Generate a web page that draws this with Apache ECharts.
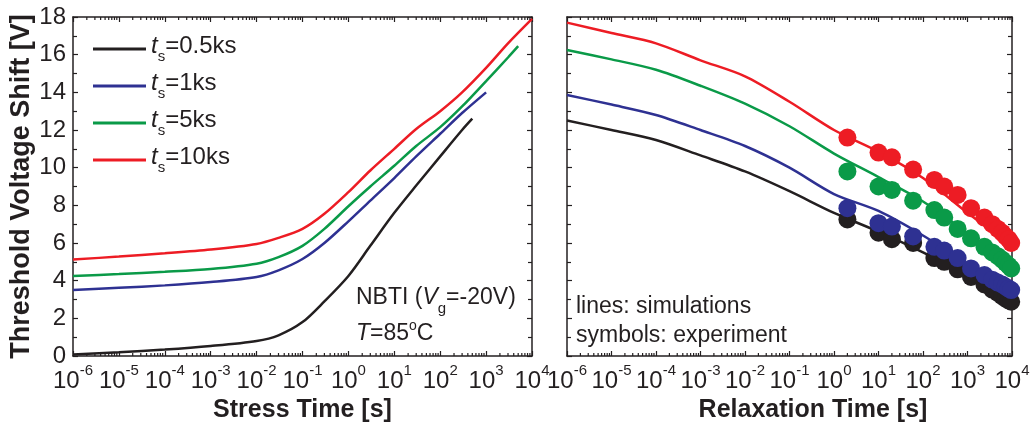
<!DOCTYPE html>
<html>
<head>
<meta charset="utf-8">
<script src="https://cdn.jsdelivr.net/npm/echarts@6/dist/echarts.min.js"></script>
<style>
  html, body { margin: 0; padding: 0; background: #ffffff; }
  #chart { width: 1032px; height: 425px; }
</style>
</head>
<body>
<div id="chart"></div>
<script>
// ---- Stress phase: simulated threshold-voltage shift vs. stress time ----
const stressTime05 = [1e-6, 1e-5, 1e-4, 1e-3, 1e-2, 3e-2, 0.1, 0.3, 1, 3, 10, 30, 100, 300, 500];
const stressShift05 = [0.08, 0.2, 0.34, 0.53, 0.8, 1.1, 1.8, 2.9, 4.25, 5.85, 7.6, 9.05, 10.6, 12.0, 12.6];

const stressTime1 = [1e-6, 1e-5, 1e-4, 1e-3, 1e-2, 3e-2, 0.1, 0.3, 1, 3, 10, 30, 100, 300, 1000];
const stressShift1 = [3.5, 3.62, 3.75, 3.93, 4.2, 4.55, 5.15, 6.0, 7.15, 8.25, 9.45, 10.6, 11.8, 12.9, 14.0];

const stressTime5 = [1e-6, 1e-5, 1e-4, 1e-3, 1e-2, 3e-2, 0.1, 0.3, 1, 3, 10, 30, 100, 300, 1000, 3000, 5000];
const stressShift5 = [4.25, 4.35, 4.47, 4.62, 4.9, 5.25, 5.85, 6.75, 7.95, 9.0, 10.1, 11.15, 12.15, 13.25, 14.6, 15.85, 16.45];

const stressTime10 = [1e-6, 1e-5, 1e-4, 1e-3, 1e-2, 3e-2, 0.1, 0.3, 1, 3, 10, 30, 100, 300, 1000, 3000, 10000];
const stressShift10 = [5.12, 5.28, 5.45, 5.65, 5.95, 6.27, 6.75, 7.55, 8.7, 9.85, 11.0, 12.05, 13.0, 14.0, 15.3, 16.6, 17.9];

// ---- Relaxation phase: simulated recovery ----
const relaxTime = [1e-6, 1e-5, 1e-4, 1e-3, 1e-2, 0.1, 1, 10, 100, 1000, 10000];
const relaxSim05 = [12.5, 12.0, 11.47, 10.65, 9.8, 8.75, 7.6, 6.6, 5.5, 4.3, 3.0];
const relaxSim1 = [13.86, 13.35, 12.8, 12.0, 11.15, 10.0, 8.6, 7.7, 6.4, 4.9, 3.6];
const relaxSim5 = [16.25, 15.75, 15.2, 14.35, 13.4, 12.2, 10.75, 9.5, 8.2, 6.5, 4.6];
const relaxSim10 = [17.7, 17.15, 16.6, 15.7, 14.85, 13.5, 12.0, 10.85, 9.45, 7.6, 5.8];

// ---- Relaxation phase: measured recovery ----
const relaxTimeExp = [2, 10, 20, 60, 180, 300, 600, 1200, 2400, 3600, 4800, 6000, 7200, 8400, 9600];
const relaxExp05 = [7.25, 6.55, 6.2, 6.0, 5.2, 5.0, 4.6, 4.2, 3.8, 3.52, 3.35, 3.18, 3.05, 2.95, 2.88];
const relaxExp1 = [7.85, 7.05, 6.87, 6.35, 5.8, 5.6, 5.2, 4.65, 4.3, 4.05, 3.9, 3.8, 3.68, 3.58, 3.5];
const relaxExp5 = [9.8, 9.0, 8.82, 8.25, 7.75, 7.35, 6.75, 6.25, 5.8, 5.5, 5.3, 5.12, 4.95, 4.8, 4.65];
const relaxExp10 = [11.6, 10.8, 10.55, 9.9, 9.35, 9.0, 8.55, 7.85, 7.35, 7.0, 6.75, 6.55, 6.35, 6.2, 6.0];

// ---- Axis ticks ----
const decadeMin = -6, decadeMax = 4;       // exponents of the time axes
const shiftMin = 0, shiftMax = 18, shiftStep = 2;
const stressNames = ['0.5ks', '1ks', '5ks', '10ks'];

const INK = '#231f20';
const FONT = '"Liberation Sans", Arial, Helvetica, sans-serif';
const COLORS = ['#231f20', '#2e3192', '#0a9a48', '#ed1c24'];

const pairs = (ts, vs) => ts.map((t, i) => [Math.log10(t), vs[i]]);

// positions of 2..9 x 10^n inside each decade (log10 units)
const minorTickLogs = [];
for (let d = decadeMin; d < decadeMax; d++) {
  for (let k = 2; k <= 9; k++) minorTickLogs.push([d + Math.log10(k), shiftMin]);
}

const decadeLabel = {
  show: true,
  margin: 7,
  formatter: v => '{b|10}{sup|' + v + '}',
  rich: {
    b: { fontSize: 24, lineHeight: 30, verticalAlign: 'bottom', color: INK, fontFamily: FONT },
    sup: { fontSize: 15, lineHeight: 8, verticalAlign: 'top', color: INK, fontFamily: FONT }
  }
};
const axisLine = { show: true, onZero: false, lineStyle: { color: INK, width: 1.5 } };

function timeAxes(gridIndex, name, namePad) {
  const base = {
    gridIndex, type: 'value', min: decadeMin, max: decadeMax, interval: 1,
    axisLine, splitLine: { show: false },
    axisTick: { show: true, inside: true, length: 5, lineStyle: { color: INK, width: 1.2 } }
  };
  return [
    Object.assign({}, base, {
      position: 'bottom', axisLabel: decadeLabel,
      name, nameLocation: 'middle', nameGap: 40,
      nameTextStyle: { fontSize: 25, fontWeight: 'bold', color: INK, fontFamily: FONT, padding: [0, 0, 0, namePad] }
    }),
    Object.assign({}, base, { position: 'top', axisLabel: { show: false } })
  ];
}

function shiftAxes(gridIndex, withLabels) {
  const base = {
    gridIndex, type: 'value', min: shiftMin, max: shiftMax, interval: shiftStep,
    axisLine, splitLine: { show: false },
    axisTick: { show: true, inside: true, length: 5, lineStyle: { color: INK, width: 1.2 } },
    minorTick: { show: true, splitNumber: 2, length: 4, lineStyle: { color: INK, width: 1.2 } },
    minorSplitLine: { show: false }
  };
  const left = Object.assign({}, base, { position: 'left' });
  if (withLabels) {
    left.axisLabel = { show: true, fontSize: 24, color: INK, fontFamily: FONT, margin: 7 };
    left.name = 'Threshold Voltage Shift [V]';
    left.nameLocation = 'middle';
    left.nameGap = 36;
    left.nameTextStyle = { fontSize: 27, fontWeight: 'bold', color: INK, fontFamily: FONT };
  } else {
    left.axisLabel = { show: false };
  }
  return [left, Object.assign({}, base, { position: 'right', axisLabel: { show: false } })];
}

function minorTickSeries(xAxisIndex, yAxisIndex) {
  return {
    type: 'custom', xAxisIndex, yAxisIndex, silent: true, clip: false, z: 5,
    data: minorTickLogs, encode: { x: 0, y: 1 },
    renderItem(params, api) {
      const x = api.value(0);
      const b = api.coord([x, shiftMin]);
      const t = api.coord([x, shiftMax]);
      const style = { stroke: INK, lineWidth: 1.2 };
      return {
        type: 'group',
        children: [
          { type: 'line', shape: { x1: b[0], y1: b[1], x2: b[0], y2: b[1] - 3 }, style },
          { type: 'line', shape: { x1: t[0], y1: t[1], x2: t[0], y2: t[1] + 3 }, style }
        ]
      };
    }
  };
}

function simLine(name, xi, data, color) {
  return {
    type: 'line', name, xAxisIndex: xi, yAxisIndex: xi, data,
    symbol: 'none', showSymbol: false, smooth: 0.3, z: 3,
    lineStyle: { width: 2.5, color }, itemStyle: { color }
  };
}
function expDots(name, data, color) {
  return {
    type: 'scatter', name, xAxisIndex: 2, yAxisIndex: 2, data,
    symbol: 'circle', symbolSize: 18, z: 4,
    itemStyle: { color, opacity: 1 }
  };
}

const stressSets = [[stressTime05, stressShift05], [stressTime1, stressShift1], [stressTime5, stressShift5], [stressTime10, stressShift10]];
const relaxSims = [relaxSim05, relaxSim1, relaxSim5, relaxSim10];
const relaxExps = [relaxExp05, relaxExp1, relaxExp5, relaxExp10];

const series = [minorTickSeries(0, 0), minorTickSeries(2, 2)];
stressSets.forEach((s, i) => series.push(simLine(stressNames[i], 0, pairs(s[0], s[1]), COLORS[i])));
relaxSims.forEach((v, i) => series.push(simLine(stressNames[i] + ' ', 2, pairs(relaxTime, v), COLORS[i])));
relaxExps.forEach((v, i) => series.push(expDots(stressNames[i] + '  ', pairs(relaxTimeExp, v), COLORS[i])));

// rich-text styles for the in-plot notes: subscripts drop to the bottom of a
// taller line, superscripts rise to its top
const textRich = {
  m: { fontSize: 23, lineHeight: 30, verticalAlign: 'top', fontFamily: FONT, fill: INK },
  i: { fontStyle: 'italic', fontSize: 23, lineHeight: 30, verticalAlign: 'top', fontFamily: FONT, fill: INK },
  mm: { fontSize: 23, lineHeight: 30, verticalAlign: 'middle', fontFamily: FONT, fill: INK },
  im: { fontStyle: 'italic', fontSize: 23, lineHeight: 30, verticalAlign: 'middle', fontFamily: FONT, fill: INK },
  sub: { fontSize: 15, lineHeight: 30, verticalAlign: 'bottom', fontFamily: FONT, fill: INK },
  sup: { fontSize: 14, lineHeight: 16, verticalAlign: 'top', fontFamily: FONT, fill: INK }
};
function note(x, y, text) {
  return {
    type: 'text', x, y, z: 10,
    style: { text, fill: INK, fontSize: 23, lineHeight: 30, fontFamily: FONT, verticalAlign: 'top', rich: textRich }
  };
}

const option = {
  animation: false,
  backgroundColor: '#ffffff',
  grid: [
    { left: 73, top: 17, width: 459, height: 339, outerBoundsMode: 'none' },
    { left: 567, top: 17, width: 445, height: 339, outerBoundsMode: 'none' }
  ],
  xAxis: [...timeAxes(0, 'Stress Time [s]', 0), ...timeAxes(1, 'Relaxation Time [s]', 47)],
  yAxis: [...shiftAxes(0, true), ...shiftAxes(1, false)],
  legend: {
    data: stressNames, orient: 'vertical', left: 88, top: 29,
    icon: 'rect', itemWidth: 53, itemHeight: 3, itemGap: 7, selectedMode: false,
    formatter: n => '{t|t}{sub|s}{b|=' + n + '}',
    textStyle: {
      color: INK, fontFamily: FONT, fontSize: 24,
      rich: {
        t: { fontStyle: 'italic', fontSize: 24, lineHeight: 30, verticalAlign: 'top', color: INK, fontFamily: FONT },
        sub: { fontSize: 15, lineHeight: 30, verticalAlign: 'bottom', color: INK, fontFamily: FONT },
        b: { fontSize: 24, lineHeight: 30, verticalAlign: 'top', color: INK, fontFamily: FONT }
      }
    }
  },
  graphic: [
    note(356, 286, '{m|NBTI (}{i|V}{sub|g}{m|=-20V)}'),
    note(356, 319, '{im|T}{mm|=85}{sup|o}{mm|C}'),
    note(576, 292, 'lines: simulations'),
    note(576, 321, 'symbols: experiment')
  ],
  series
};

const chart = echarts.init(document.getElementById('chart'), null, { renderer: 'canvas' });
chart.setOption(option);
</script>
</body>
</html>
